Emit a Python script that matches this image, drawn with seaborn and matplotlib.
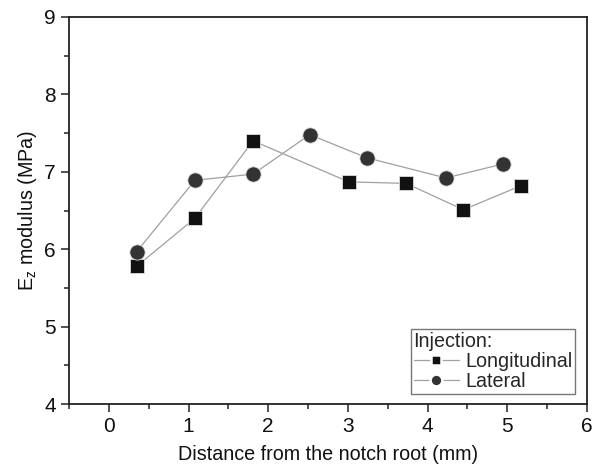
import matplotlib
matplotlib.use("Agg")
import matplotlib.pyplot as plt
import seaborn as sns
import pandas as pd
from matplotlib.ticker import MultipleLocator
from matplotlib.lines import Line2D

sns.set_theme(style="ticks")
plt.rcParams['font.family'] = ['Liberation Sans', 'DejaVu Sans']
plt.rcParams['mathtext.fontset'] = 'custom'
plt.rcParams['mathtext.rm'] = 'Liberation Sans'

long_x = [0.35, 1.08, 1.81, 3.01, 3.73, 4.45, 5.17]
long_y = [5.78, 6.40, 7.40, 6.87, 6.85, 6.51, 6.82]
lat_x = [0.35, 1.08, 1.81, 2.52, 3.24, 4.23, 4.94]
lat_y = [5.97, 6.89, 6.97, 7.48, 7.18, 6.92, 7.10]
series = ["Longitudinal", "Lateral"]

df = pd.concat([
    pd.DataFrame({"x": long_x, "y": long_y, "s": series[0]}),
    pd.DataFrame({"x": lat_x, "y": lat_y, "s": series[1]}),
])

fig = plt.figure(figsize=(5.96, 4.70), dpi=100)
ax = fig.add_axes([69/596, 1-404/470, (587-69)/596, (404-17)/470])

sns.lineplot(data=df, x="x", y="y", hue="s", style="s",
             palette={"Longitudinal": "#a0a0a0", "Lateral": "#a0a0a0"},
             markers={"Longitudinal": "s", "Lateral": "o"},
             dashes=False, sort=False, linewidth=0.9, ax=ax, legend=False)

for line, mc, ms in zip(ax.lines, ["#111111", "#333333"], [9.5, 11]):
    line.set_markerfacecolor(mc)
    line.set_markeredgecolor("#dddddd")
    line.set_markeredgewidth(0.6)
    line.set_markersize(ms)

ax.set_xlim(-0.5, 6)
ax.set_ylim(4, 9)
ax.xaxis.set_major_locator(MultipleLocator(1))
ax.xaxis.set_minor_locator(MultipleLocator(0.5))
ax.yaxis.set_major_locator(MultipleLocator(1))
ax.yaxis.set_minor_locator(MultipleLocator(0.5))
ax.tick_params(which="major", direction="out", length=6, width=1.1, labelsize=15,
               color="#222222", labelcolor="#111111")
ax.tick_params(which="minor", direction="out", length=3.5, width=1.1, color="#222222")
ax.tick_params(top=False, right=False, which="both")
for sp in ax.spines.values():
    sp.set_visible(True)
    sp.set_linewidth(1.3)
    sp.set_color("#222222")

ax.set_xlabel("Distance from the notch root (mm)", fontsize=14.2, labelpad=6, color="#111111")
ax.set_ylabel(r"E$_\mathregular{z}$ modulus (MPa)", fontsize=14.2, labelpad=4, color="#111111")

handles = [
    Line2D([], [], color="#a0a0a0", lw=0.9, marker="s", markersize=7.5,
           markerfacecolor="#111111", markeredgecolor="white", markeredgewidth=1.8),
    Line2D([], [], color="#a0a0a0", lw=0.9, marker="o", markersize=8.5,
           markerfacecolor="#333333", markeredgecolor="white", markeredgewidth=1.8),
]
leg = ax.legend(handles, series, title="Injection:", loc="lower right",
                bbox_to_anchor=(0.977, 0.025), fontsize=14.2, title_fontsize=14.2,
                frameon=True, fancybox=False, edgecolor="#555555",
                handlelength=2.3, handletextpad=0.3, borderpad=0.15,
                labelspacing=0.05, borderaxespad=0.0)
leg._legend_box.align = "left"
leg.get_frame().set_linewidth(1.0)

fig.savefig("out.png", dpi=100)
